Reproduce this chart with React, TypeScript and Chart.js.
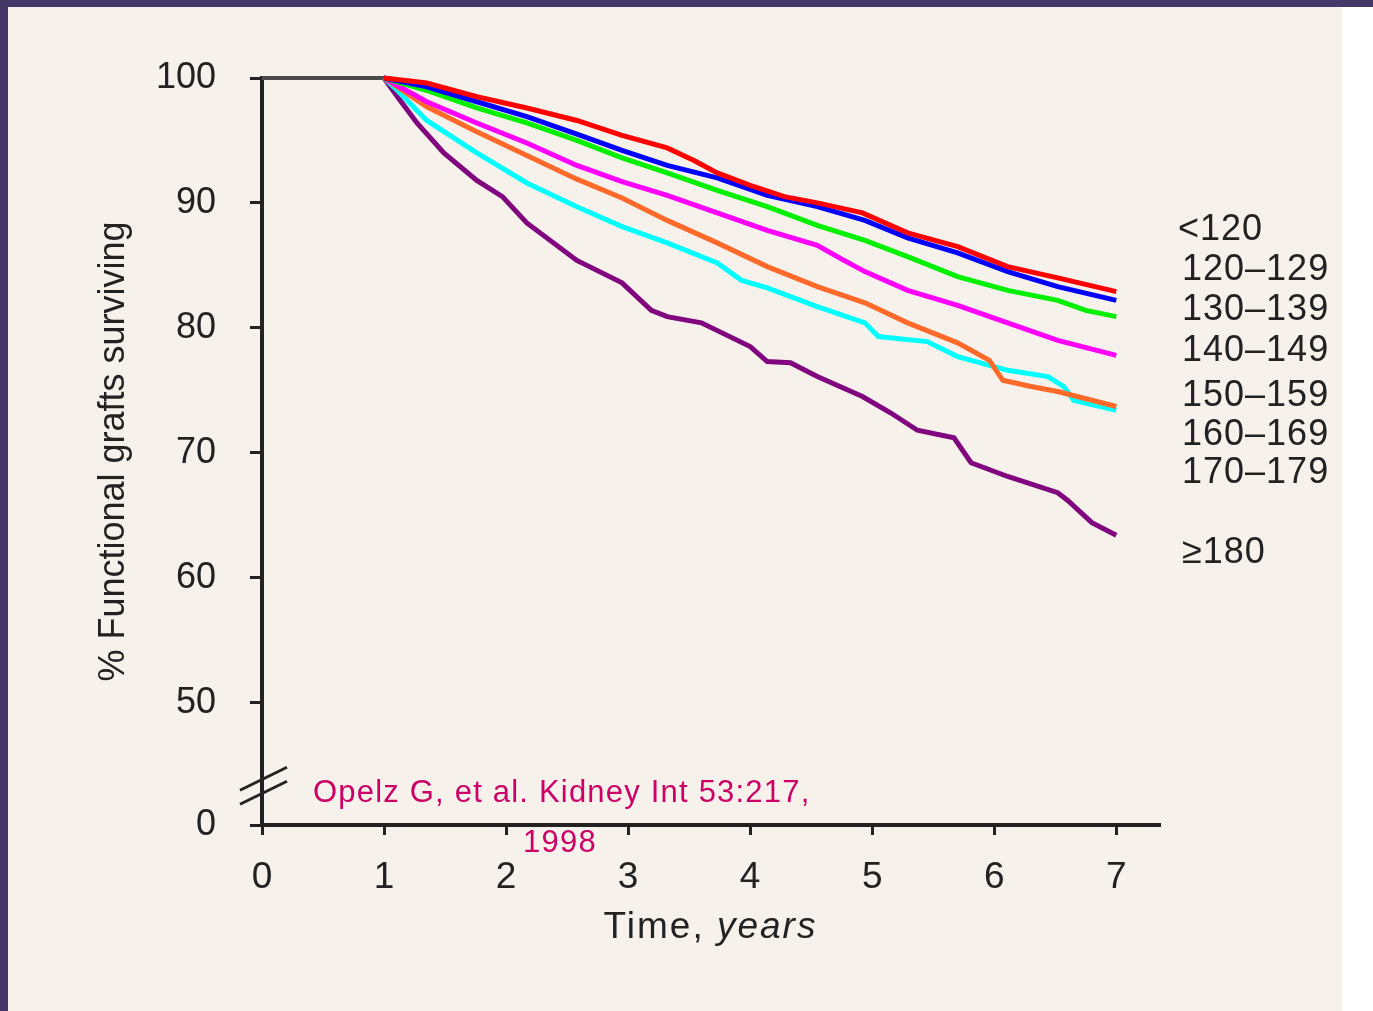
import { useEffect, useRef } from 'react';
import { Chart, registerables } from 'chart.js';

Chart.register(...registerables);

// Years after transplantation and % functional grafts surviving
const yearTicks = [0, 1, 2, 3, 4, 5, 6, 7];
const percentTicks = [50, 60, 70, 80, 90, 100];
const axisFloor = 40.2; // labelled "0" below the axis break

// Systolic blood pressure groups (mmHg), listed beside the curve ends
const groupLabels = ['<120', '120–129', '130–139', '140–149', '150–159', '160–169', '170–179', '≥180'];

// Common first year: all grafts functioning at year 1
const firstYear = [[0, 100], [1, 100]];

const sbpUnder120 = [
  [1, 100], [1.35, 99.6], [1.76, 98.5], [2.17, 97.6], [2.58, 96.6], [2.95, 95.4],
  [3.32, 94.4], [3.54, 93.4], [3.73, 92.4], [4.0, 91.4], [4.28, 90.5], [4.55, 90.0],
  [4.92, 89.2], [5.29, 87.6], [5.7, 86.5], [6.11, 84.9], [6.52, 84.0], [7.0, 82.9],
];
const sbp120to129 = [
  [1, 100], [1.35, 99.3], [1.76, 98.1], [2.17, 96.9], [2.58, 95.5], [2.95, 94.2],
  [3.32, 93.0], [3.73, 92.0], [4.14, 90.6], [4.55, 89.7], [4.94, 88.6], [5.29, 87.2],
  [5.7, 86.0], [6.11, 84.5], [6.52, 83.3], [7.0, 82.2],
];
const sbp130to139 = [
  [1, 100], [1.35, 99.0], [1.76, 97.6], [2.17, 96.4], [2.58, 95.0], [2.95, 93.6],
  [3.32, 92.4], [3.73, 91.0], [4.14, 89.7], [4.55, 88.2], [4.94, 87.0], [5.29, 85.7],
  [5.7, 84.1], [6.11, 83.0], [6.52, 82.2], [6.75, 81.4], [7.0, 80.9],
];
const sbp140to149 = [
  [1, 100], [1.35, 98.1], [1.76, 96.4], [2.17, 94.8], [2.58, 93.0], [2.95, 91.7],
  [3.32, 90.6], [3.73, 89.2], [4.14, 87.8], [4.55, 86.6], [4.75, 85.5], [4.94, 84.5],
  [5.29, 83.0], [5.7, 81.8], [6.11, 80.4], [6.52, 79.0], [7.0, 77.8],
];
const sbp150to159 = [
  [1, 100], [1.35, 97.7], [1.76, 95.7], [2.17, 93.8], [2.58, 91.9], [2.95, 90.4],
  [3.32, 88.6], [3.73, 86.8], [4.14, 84.9], [4.55, 83.3], [4.94, 82.0], [5.29, 80.4],
  [5.7, 78.8], [5.96, 77.4], [6.07, 75.8], [6.3, 75.3], [6.52, 74.9], [7.0, 73.7],
];
const sbp160to169 = [
  [1, 100], [1.11, 99.0], [1.35, 96.6], [1.76, 94.0], [2.17, 91.6], [2.58, 89.7],
  [2.95, 88.1], [3.32, 86.8], [3.73, 85.2], [3.93, 83.8], [4.14, 83.2], [4.55, 81.7],
  [4.94, 80.4], [5.05, 79.3], [5.45, 78.9], [5.7, 77.7], [6.11, 76.6], [6.44, 76.1],
  [6.57, 75.3], [6.65, 74.2], [7.0, 73.4],
];
const sbp180plus = [
  [1, 100], [1.11, 98.5], [1.27, 96.4], [1.49, 94.0], [1.76, 91.8], [1.97, 90.5],
  [2.17, 88.4], [2.58, 85.4], [2.95, 83.6], [3.19, 81.4], [3.32, 80.9], [3.6, 80.4],
  [4.0, 78.5], [4.14, 77.3], [4.33, 77.2], [4.55, 76.1], [4.92, 74.5], [5.15, 73.2],
  [5.37, 71.8], [5.67, 71.2], [5.81, 69.2], [6.11, 68.1], [6.52, 66.8], [6.6, 66.2],
  [6.8, 64.4], [7.0, 63.4],
];

const FONT = '"Liberation Sans", Arial, Helvetica, sans-serif';
const INK = '#222222';
const CITE = '#cc0066';

const toPoints = (rows: number[][]) => rows.map(([x, y]) => ({ x, y }));

// Axis title with italic units, group labels, citation and the axis break
const overlayPlugin = {
  id: 'overlay',
  afterDraw(chart: any) {
    const { ctx, chartArea, scales } = chart;
    const y = scales.y;
    ctx.save();

    // "Time, years"
    ctx.fillStyle = INK;
    ctx.textBaseline = 'alphabetic';
    ctx.textAlign = 'left';
    (ctx as any).letterSpacing = '2px';
    const plain = 'Time, ';
    const ital = 'years';
    ctx.font = `37px ${FONT}`;
    const w1 = ctx.measureText(plain).width;
    ctx.font = `italic 37px ${FONT}`;
    const w2 = ctx.measureText(ital).width;
    const cx = (chartArea.left + chartArea.right) / 2;
    const startX = cx - (w1 + w2) / 2;
    ctx.font = `37px ${FONT}`;
    ctx.fillText(plain, startX, 938);
    ctx.font = `italic 37px ${FONT}`;
    ctx.fillText(ital, startX + w1, 938);

    // group labels beside the curve ends
    const labelLevels = [87.8, 84.6, 81.4, 78.1, 74.5, 71.4, 68.4, 62.0];
    ctx.font = `36px ${FONT}`;
    ctx.textBaseline = 'middle';
    (ctx as any).letterSpacing = '1px';
    groupLabels.forEach((label, i) => {
      const lx = chartArea.right + (i === 0 ? 19 : 23);
      ctx.fillText(label, lx, y.getPixelForValue(labelLevels[i]));
    });

    // citation
    ctx.fillStyle = CITE;
    ctx.font = `31px ${FONT}`;
    (ctx as any).letterSpacing = '1.2px';
    ctx.textAlign = 'left';
    ctx.fillText('Opelz G, et al. Kidney Int 53:217,', chartArea.left + 51, 793);
    ctx.textAlign = 'center';
    ctx.fillText('1998', 560, 843);
    (ctx as any).letterSpacing = '0px';

    // axis break marks
    const ax = chartArea.left;
    const yc = y.getPixelForValue(43.3);
    ctx.strokeStyle = '#222';
    ctx.lineWidth = 3;
    [-7, 7].forEach((d) => {
      ctx.beginPath();
      ctx.moveTo(ax - 22, yc + d + 11);
      ctx.lineTo(ax + 25, yc + d - 12);
      ctx.stroke();
    });

    ctx.restore();
  },
};

export default function App() {
  const canvasRef = useRef<HTMLCanvasElement | null>(null);

  useEffect(() => {
    const canvas = canvasRef.current;
    if (!canvas) return;

    const line = (label: string, rows: number[][], color: string) => ({
      label,
      data: toPoints(rows),
      borderColor: color,
      backgroundColor: color,
      borderWidth: 5,
      pointRadius: 0,
      tension: 0,
      fill: false,
      clip: false,
    });

    const chart = new Chart(canvas, {
      type: 'line',
      data: {
        datasets: [
          line(groupLabels[0], sbpUnder120, '#ff0000'),
          line(groupLabels[1], sbp120to129, '#0000ff'),
          line(groupLabels[2], sbp130to139, '#00f000'),
          line(groupLabels[3], sbp140to149, '#ff00ff'),
          line(groupLabels[4], sbp150to159, '#ff6a2a'),
          line(groupLabels[5], sbp160to169, '#00ffff'),
          line(groupLabels[7], sbp180plus, '#80057f'),
          { ...line('year 1', firstYear, '#4a4a4a'), borderWidth: 4 },
        ],
      },
      options: {
        animation: false,
        responsive: false,
        maintainAspectRatio: false,
        layout: { padding: { left: 88, right: 214, top: 78, bottom: 0 } },
        plugins: { legend: { display: false }, tooltip: { enabled: false } },
        scales: {
          x: {
            type: 'linear',
            min: 0,
            max: 7.35,
            afterBuildTicks: (s: any) => {
              s.ticks = yearTicks.map((v) => ({ value: v }));
            },
            afterFit: (s: any) => {
              s.height = 186;
            },
            grid: { drawOnChartArea: false, drawTicks: true, tickLength: 10, color: '#222', lineWidth: 3 },
            border: { display: true, color: '#222', width: 4 },
            ticks: {
              color: INK,
              font: { family: FONT, size: 37 },
              padding: 21,
              maxRotation: 0,
              autoSkip: false,
            },
          },
          y: {
            type: 'linear',
            min: axisFloor,
            max: 100,
            afterBuildTicks: (s: any) => {
              s.ticks = [axisFloor, ...percentTicks].map((v) => ({ value: v }));
            },
            afterFit: (s: any) => {
              s.width = 174;
            },
            grid: { drawOnChartArea: false, drawTicks: true, tickLength: 12, color: '#222', lineWidth: 3 },
            border: { display: true, color: '#222', width: 4 },
            ticks: {
              color: INK,
              font: { family: FONT, size: 36 },
              padding: 34,
              autoSkip: false,
              callback: (v: any) => (Number(v) < 45 ? '0' : String(v)),
            },
            title: {
              display: true,
              text: '% Functional grafts surviving',
              color: INK,
              font: { family: FONT, size: 36 },
              padding: { top: 4, bottom: 0 },
            },
          },
        },
      },
      plugins: [overlayPlugin],
    } as any);

    return () => chart.destroy();
  }, []);

  return (
    <div style={{ position: 'fixed', left: 0, top: 0, width: 1373, height: 1011, background: '#433868', overflow: 'hidden' }}>
      <div style={{ position: 'absolute', left: 8, top: 7, width: 1334, height: 1004, background: '#f6f2eb' }} />
      <div style={{ position: 'absolute', left: 1342, top: 7, width: 31, height: 1004, background: '#ffffff' }} />
      <canvas
        ref={canvasRef}
        width={1373}
        height={1011}
        style={{ position: 'absolute', left: 0, top: 0, width: 1373, height: 1011 }}
      />
    </div>
  );
}
